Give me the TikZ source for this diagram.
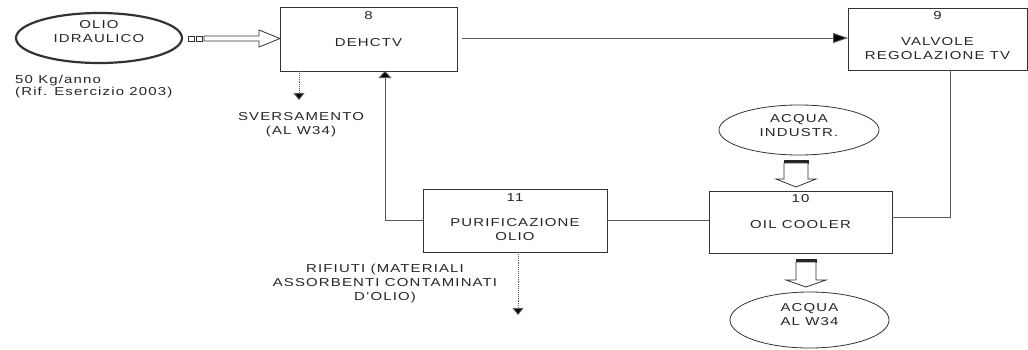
\documentclass[tikz,border=0pt]{standalone}
\usepackage{fontspec}
\setmainfont{Liberation Sans}[FakeStretch=1.3,LetterSpace=10]
\usetikzlibrary{arrows.meta,calc,shapes.geometric}
\begin{document}
\begin{tikzpicture}[x=1pt,y=-1pt,
  font=\fontsize{11.5}{14}\selectfont,
  boxnode/.style={draw=black!80,line width=0.8pt,inner sep=0pt,outer sep=0pt},
  ellnode/.style={draw=black!80,ellipse,line width=0.8pt,inner sep=0pt,outer sep=0pt},
  txt/.style={align=center,inner sep=0pt,text=black!85},
  conn/.style={draw=black!65,line width=0.9pt},
  dotconn/.style={draw=black!65,line width=0.9pt,densely dotted},
  hollow/.style={draw=black!80,line width=0.8pt,fill=white},
  bar/.style={fill=black!85,draw=black!85,line width=0.4pt}]
\clip (0,0) rectangle (1028,349);
\fill[white] (0,0) rectangle (1028,349);

% ellipses
\node[ellnode,line width=2.2pt,minimum width=166,minimum height=50] (olio) at (99,38) {};
\node[txt] (oliot) at (99,32) {OLIO\\IDRAULICO};
\node[ellnode,minimum width=160,minimum height=50] (ind) at (799,130) {};
\node[txt] (indt) at (799,126) {ACQUA\\INDUSTR.};
\node[ellnode,minimum width=159,minimum height=56] (w34) at (809.5,320) {};
\node[txt] (w34t) at (809.5,315) {ACQUA\\AL W34};

% note
\node[txt,align=left,anchor=west,font=\fontsize{11.5}{12.5}\selectfont] (note) at (15,86.5) {50 Kg/anno\\(Rif. Esercizio 2003)};

% boxes
\node[boxnode,minimum width=177,minimum height=64] (b8) at (368.5,39) {};
\node[txt] (n8) at (368.5,15.5) {8};
\node[txt] (t8) at (368.5,43) {DEHCTV};

\node[boxnode,minimum width=179,minimum height=62] (b9) at (937.5,39) {};
\node[txt] (n9) at (937.5,15.5) {9};
\node[txt] (t9) at (937.5,48.5) {VALVOLE\\REGOLAZIONE TV};

\node[boxnode,minimum width=183,minimum height=62] (b10) at (800.5,222) {};
\node[txt] (n10) at (800.5,198.5) {10};
\node[txt] (t10) at (800.5,225) {OIL COOLER};

\node[boxnode,minimum width=184,minimum height=63] (b11) at (515,220.5) {};
\node[txt] (n11) at (515,197.5) {11};
\node[txt] (t11) at (515,230) {PURIFICAZIONE\\OLIO};

% labels
\node[txt] (svt) at (301,124.5) {SVERSAMENTO\\(AL W34)};
\node[txt] (rift) at (385,283.5) {RIFIUTI (MATERIALI\\ASSORBENTI CONTAMINATI\\D'OLIO)};

% connectors
\draw[conn,-{Triangle[length=15pt,width=10pt,fill=black]}] ([xshift=5pt,yshift=1pt]b8.east) -- ([yshift=1pt]b9.west);
\draw[conn,-{Triangle[length=7pt,width=13pt,fill=black]}] (b11.west) -| ($(b8.south)+(16.5,0)$);
\draw[conn] (b11.east) -- (b11.east -| b10.west);
\draw[conn] ($(b9.south)+(12.5,0)$) |- ([yshift=5pt]b10.east);

\coordinate (sv) at (299,100);
\draw[dotconn,-{Triangle[length=7pt,width=11pt,fill=black,sep=0pt]}] (b8.south -| sv) -- (sv);
\coordinate (rf) at (518,315);
\draw[dotconn,-{Triangle[length=7pt,width=11pt,fill=black,sep=0pt]}] (b11.south -| rf) -- (rf);

% hollow arrow olio -> DEHCTV
\draw[hollow] (188,36) rectangle (194,41);
\draw[hollow] (196,36) rectangle (202,41);
\draw[hollow] (204,36) -- (259,36) -- (259,30) -- (b8.west |- 0,38.5) -- (259,47) -- (259,41) -- (204,41) -- cycle;

% hollow arrow industr -> oil cooler
\draw[bar] (784,160) rectangle (808,163);
\draw[hollow] (784,163) -- (784,179) -- (776,179) -- (796,187) -- (816,179) -- (808,179) -- (808,163) -- cycle;

% hollow arrow oil cooler -> W34
\draw[bar] (796,259) rectangle (816,262);
\draw[hollow] (796,262) -- (796,280) -- (786,280) -- (806,287) -- (826,280) -- (816,280) -- (816,262) -- cycle;
\end{tikzpicture}
\end{document}
